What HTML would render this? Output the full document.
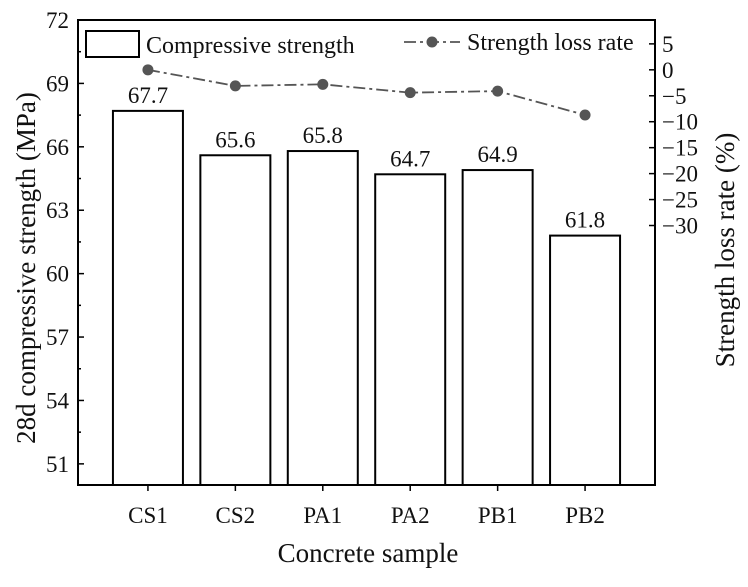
<!DOCTYPE html>
<html><head><meta charset="utf-8"><style>
body{margin:0;background:#fff}
svg text{font-family:"Liberation Serif",serif;fill:#111}
</style></head><body>
<svg id="c" width="748" height="582" xmlns="http://www.w3.org/2000/svg"></svg>
<script>
const categories=["CS1","CS2","PA1","PA2","PB1","PB2"];
const strength=[67.7,65.6,65.8,64.7,64.9,61.8];
const lossRate=[0,-3.1,-2.8,-4.4,-4.1,-8.7];
const leftTicks=[51,54,57,60,63,66,69,72];
const rightTicks=[5,0,-5,-10,-15,-20,-25,-30];

const svg=document.getElementById('c');
const NS="http://www.w3.org/2000/svg";
const L=78,R=655,T=20,B=485;
const x=i=>L+(i+0.8)/6.6*(R-L);
const yL=v=>B-(v-50)/22*(B-T);
const yR=v=>B-(v+80)/89.6*(B-T);
function mk(tag,attrs,txt){const e=document.createElementNS(NS,tag);for(const k in attrs)e.setAttribute(k,attrs[k]);if(txt!==undefined)e.textContent=txt;svg.appendChild(e);return e;}

strength.forEach((v,i)=>{
  const r=mk('rect',{x:x(i)-35,y:yL(v),width:70,height:B-yL(v),fill:'#fff',stroke:'#000','stroke-width':2});
  
  
  const t=mk('text',{x:x(i),y:yL(v)-8,'text-anchor':'middle','font-size':23},v.toFixed(1));
  
  
});
const f=mk('rect',{x:L,y:T,width:R-L,height:B-T,fill:'none',stroke:'#000','stroke-width':2});


leftTicks.forEach(v=>{
  mk('line',{x1:L,x2:L+6,y1:yL(v),y2:yL(v),stroke:'#000','stroke-width':1.5});
  mk('line',{x1:L,x2:L+3,y1:yL(v+1.5),y2:yL(v+1.5),stroke:'#000','stroke-width':1.5});
  const t=mk('text',{x:L-9,y:yL(v)+8,'text-anchor':'end','font-size':23},v);
  
  
});
rightTicks.forEach(v=>{
  mk('line',{x1:R-6,x2:R,y1:yR(v),y2:yR(v),stroke:'#000','stroke-width':1.5});
  const t=mk('text',{x:R+7,y:yR(v)+8,'text-anchor':'start','font-size':23},(v<0?'\u2212'+(-v):v));
  
  
});
categories.forEach((c,i)=>{
  mk('line',{x1:x(i),x2:x(i),y1:B,y2:B+6,stroke:'#000','stroke-width':1.5});
  const t=mk('text',{x:x(i),y:B+38,'text-anchor':'middle','font-size':23},c);
  
  
});
const pl=mk('polyline',{points:lossRate.map((v,i)=>x(i)+','+yR(v)).join(' '),fill:'none',stroke:'#555','stroke-width':1.8,'stroke-dasharray':'12 4 3 4'});


lossRate.forEach((v,i)=>{
  const c=mk('circle',{cx:x(i),cy:yR(v),r:5.5,fill:'#555'});
  
  
});
const lb=mk('rect',{x:86,y:31,width:53,height:26,fill:'#fff',stroke:'#000','stroke-width':2});


const lt1=mk('text',{x:146,y:53,'font-size':24},'Compressive strength');


const ll=mk('line',{x1:404,x2:460,y1:42,y2:42,stroke:'#555','stroke-width':1.8,'stroke-dasharray':'12 4 3 4'});


mk('circle',{cx:432,cy:42,r:5.5,fill:'#555'});
const lt2=mk('text',{x:467,y:50,'font-size':24},'Strength loss rate');


const xt=mk('text',{x:368,y:562,'text-anchor':'middle','font-size':27},'Concrete sample');


const yt=mk('text',{x:0,y:0,'text-anchor':'middle','font-size':27,transform:'translate(35,268) rotate(-90)'},'28d compressive strength (MPa)');


const yt2=mk('text',{x:0,y:0,'text-anchor':'middle','font-size':27,transform:'translate(734,250) rotate(-90)'},'Strength loss rate (%)');


</script>
</body></html>
